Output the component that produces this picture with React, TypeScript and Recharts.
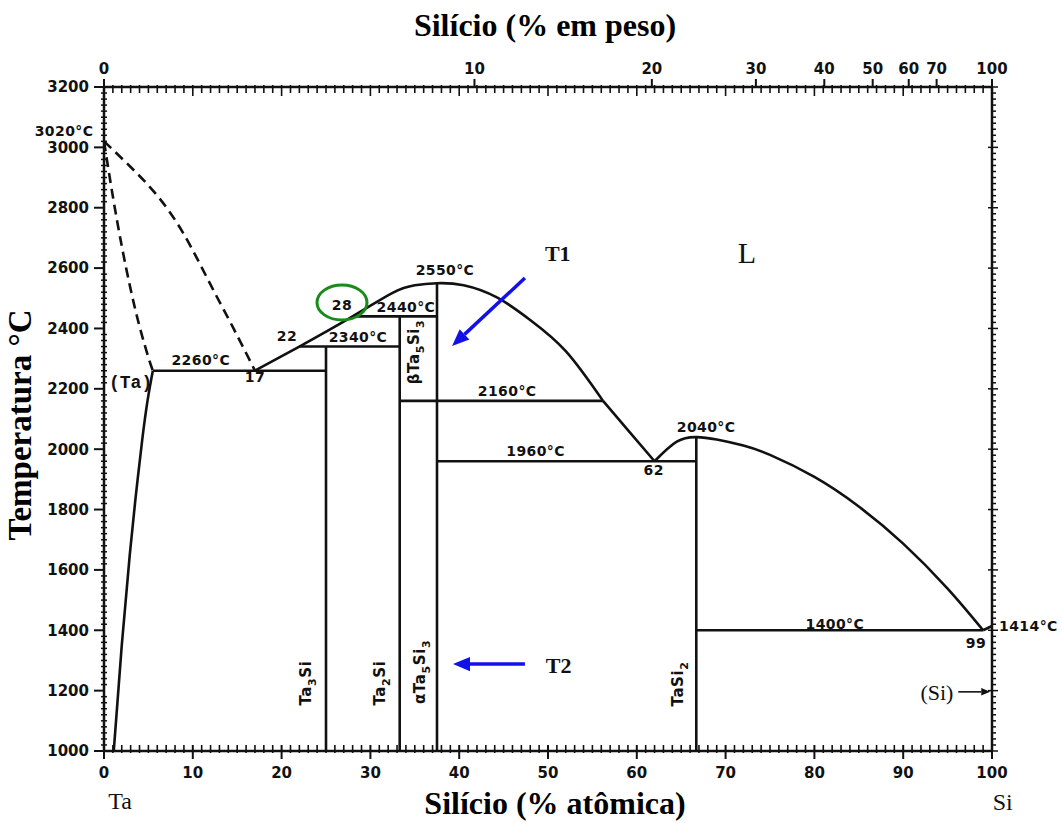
import React from 'react';
import { ComposedChart, Line, XAxis, YAxis, ReferenceDot, ReferenceLine } from 'recharts';

// Ta–Si phase diagram: x = Si (at.%), t = temperature (°C)

const taSolvus = [
  { x: 1.1, t: 1000 }, { x: 2.0, t: 1350 }, { x: 2.9, t: 1650 }, { x: 3.6, t: 1850 },
  { x: 4.3, t: 2030 }, { x: 4.9, t: 2160 }, { x: 5.5, t: 2260 },
];
const taSolidus = [
  { x: 0, t: 3020 }, { x: 1, t: 2837 }, { x: 2, t: 2673 }, { x: 3, t: 2530 },
  { x: 4, t: 2407 }, { x: 5, t: 2304 }, { x: 5.5, t: 2260 },
];
const taLiquidus = [
  { x: 0, t: 3020 }, { x: 3, t: 2935 }, { x: 6, t: 2840 }, { x: 9, t: 2712 },
  { x: 12, t: 2545 }, { x: 14.5, t: 2405 }, { x: 17, t: 2260 },
];
const liquidusBeta = [
  { x: 17, t: 2260 }, { x: 22, t: 2340 }, { x: 28, t: 2440 }, { x: 32.5, t: 2518 }, { x: 35, t: 2543 },
  { x: 37.5, t: 2550 }, { x: 40.5, t: 2543 }, { x: 44.3, t: 2502 }, { x: 48, t: 2428 },
  { x: 52, t: 2325 }, { x: 56.2, t: 2160 },
];
const liquidusAlpha = [{ x: 56.2, t: 2160 }, { x: 59, t: 2063 }, { x: 62, t: 1960 }];
const liquidusSi = [
  { x: 62, t: 1960 }, { x: 64.5, t: 2025 }, { x: 66.7, t: 2040 }, { x: 69, t: 2032 }, { x: 72, t: 2012 },
  { x: 75, t: 1981 }, { x: 80, t: 1908 }, { x: 85, t: 1810 }, { x: 90, t: 1687 }, { x: 95, t: 1538 },
  { x: 99, t: 1400 },
];
const siEnd = [{ x: 99, t: 1400 }, { x: 100, t: 1414 }];

const ta3Si = [{ x: 25, t: 1000 }, { x: 25, t: 2340 }];
const ta2Si = [{ x: 33.3, t: 1000 }, { x: 33.3, t: 2440 }];
const ta5Si3 = [{ x: 37.5, t: 1000 }, { x: 37.5, t: 2550 }];
const taSi2 = [{ x: 66.7, t: 1000 }, { x: 66.7, t: 2040 }];

const iso2260 = [{ x: 5.5, t: 2260 }, { x: 25, t: 2260 }];
const iso2340 = [{ x: 22, t: 2340 }, { x: 33.3, t: 2340 }];
const iso2440 = [{ x: 28, t: 2440 }, { x: 37.5, t: 2440 }];
const iso2160 = [{ x: 33.3, t: 2160 }, { x: 56.2, t: 2160 }];
const iso1960 = [{ x: 37.5, t: 1960 }, { x: 66.7, t: 1960 }];
const iso1400 = [{ x: 66.7, t: 1400 }, { x: 99, t: 1400 }];

const curveSeries = [taSolvus, liquidusBeta, liquidusAlpha, liquidusSi];
const straightSeries = [siEnd, ta3Si, ta2Si, ta5Si3, taSi2, iso2260, iso2340, iso2440, iso2160, iso1960, iso1400];
const dashedSeries = [taSolidus, taLiquidus];

const tempLabels = [
  { text: '3020°C', x: -1.2, t: 3054, anchor: 'end' },
  { text: '2260°C', x: 10.9, t: 2296 },
  { text: '17', x: 17.0, t: 2239 },
  { text: '22', x: 20.6, t: 2375 },
  { text: '28', x: 26.8, t: 2478 },
  { text: '2340°C', x: 28.6, t: 2372 },
  { text: '2440°C', x: 34.0, t: 2471 },
  { text: '2550°C', x: 38.4, t: 2594 },
  { text: '2160°C', x: 45.4, t: 2193 },
  { text: '1960°C', x: 48.6, t: 1994 },
  { text: '62', x: 61.9, t: 1931 },
  { text: '2040°C', x: 67.8, t: 2074 },
  { text: '1400°C', x: 82.3, t: 1421 },
  { text: '99', x: 98.2, t: 1358 },
  { text: '1414°C', x: 104.1, t: 1414 },
];

// [text, isSubscript]
const phaseLabels: { parts: [string, boolean][]; x: number; t: number }[] = [
  { parts: [['Ta', false], ['3', true], ['Si', false]], x: 23.3, t: 1225 },
  { parts: [['Ta', false], ['2', true], ['Si', false]], x: 31.6, t: 1225 },
  { parts: [['αTa', false], ['5', true], ['Si', false], ['3', true]], x: 36.1, t: 1262 },
  { parts: [['βTa', false], ['5', true], ['Si', false], ['3', true]], x: 35.5, t: 2322 },
  { parts: [['TaSi', false], ['2', true]], x: 65.2, t: 1222 },
];

const serifLabels = [
  { text: 'L', x: 72.4, t: 2653, size: 30, weight: 'normal' },
  { text: 'Ta', x: 1.8, t: 838, size: 24, weight: 'normal' },
  { text: 'Si', x: 101.2, t: 832, size: 24, weight: 'normal' },
  { text: 'T1', x: 51.1, t: 2650, size: 22, weight: 'bold' },
  { text: 'T2', x: 51.2, t: 1285, size: 22, weight: 'bold' },
  { text: '(Si)', x: 93.8, t: 1196, size: 22, weight: 'normal' },
];

const arrowT1 = [{ x: 47.4, t: 2567 }, { x: 39.2, t: 2342 }];
const arrowT2 = [{ x: 47.4, t: 1288 }, { x: 39.3, t: 1288 }];
const arrowSi = [{ x: 96.2, t: 1196 }, { x: 99.8, t: 1196 }];

const circled = { x: 26.8, t: 2486 };

const tempMajor = [1000, 1200, 1400, 1600, 1800, 2000, 2200, 2400, 2600, 2800, 3000, 3200];
const atMajor = [0, 10, 20, 30, 40, 50, 60, 70, 80, 90, 100];
const wtMajor = [0, 10, 20, 30, 40, 50, 60, 70, 100];

const INK = '#111';
const SANS = '"DejaVu Sans", sans-serif';
const SERIF = '"Liberation Serif", "Times New Roman", serif';

const wtToAt = (w: number) => {
  const si = w / 28.086;
  const ta = (100 - w) / 180.948;
  return (100 * si) / (si + ta);
};

const tempTicks: number[] = [];
for (let v = 1000; v <= 3200; v += 20) tempTicks.push(v);
const atTicks: number[] = [];
for (let v = 0; v <= 100; v += 1) atTicks.push(v);
const wtTickPos = wtMajor.map(wtToAt);

function LeftTick(props: any) {
  const { x, y, payload } = props;
  const v = payload.value;
  if (tempMajor.includes(v)) {
    return (
      <g>
        <line x1={x - 10} y1={y} x2={x} y2={y} stroke={INK} strokeWidth={2} />
        <text x={x - 15} y={y} dy="0.36em" textAnchor="end" fontFamily={SANS} fontWeight="bold" fontSize={15} fill={INK}>
          {v}
        </text>
      </g>
    );
  }
  return <line x1={x - 3} y1={y} x2={x + 3} y2={y} stroke={INK} strokeWidth={1.5} />;
}

function RightTick(props: any) {
  const { x, y, payload } = props;
  const major = tempMajor.includes(payload.value);
  return <line x1={x - (major ? 4 : 0)} y1={y} x2={x + (major ? 6 : 4)} y2={y} stroke={INK} strokeWidth={1.5} />;
}

// bottom axis: at.% ticks, also mirrored as inward ticks on the top border
function BottomTick(props: any) {
  const { x, y, payload } = props;
  const v = Math.round(payload.value);
  const major = atMajor.includes(v);
  const plotTop = y - 664;
  return (
    <g>
      <line x1={x} y1={y - 6} x2={x} y2={y + (major ? 8 : 2)} stroke={INK} strokeWidth={major ? 2 : 1.6} />
      <line x1={x} y1={plotTop - 2} x2={x} y2={plotTop + (major ? 9 : 6)} stroke={INK} strokeWidth={1.6} />
      {major && (
        <text x={x} y={y + 27} textAnchor="middle" fontFamily={SANS} fontWeight="bold" fontSize={15} fill={INK}>
          {v}
        </text>
      )}
    </g>
  );
}

function TopTick(props: any) {
  const { x, y, index } = props;
  return (
    <g>
      <line x1={x} y1={y - 8} x2={x} y2={y} stroke={INK} strokeWidth={2} />
      <text x={x} y={y - 13} textAnchor="middle" fontFamily={SANS} fontWeight="bold" fontSize={15} fill={INK}>
        {wtMajor[index]}
      </text>
    </g>
  );
}

function arrowShape(color: string, width: number, head: number) {
  return (p: any) => {
    const { x1, y1, x2, y2 } = p;
    const a = Math.atan2(y2 - y1, x2 - x1);
    const bx = x2 - head * Math.cos(a);
    const by = y2 - head * Math.sin(a);
    const hw = head * 0.42;
    const px = -Math.sin(a) * hw;
    const py = Math.cos(a) * hw;
    return (
      <g>
        <line x1={x1} y1={y1} x2={bx} y2={by} stroke={color} strokeWidth={width} />
        <polygon points={`${x2},${y2} ${bx + px},${by + py} ${bx - px},${by - py}`} fill={color} />
      </g>
    );
  };
}

const lineCommon = {
  dataKey: 't',
  stroke: INK,
  strokeWidth: 2.6,
  dot: false,
  activeDot: false,
  isAnimationActive: false,
};

export default function App() {
  return (
    <div style={{ position: 'absolute', left: 0, top: 0, width: 1062, height: 823, background: '#fff' }}>
      <ComposedChart width={1062} height={823} margin={{ top: 0, right: 0, bottom: 0, left: 0 }}>
        <XAxis
          dataKey="x"
          type="number"
          domain={[0, 100]}
          ticks={atTicks}
          interval={0}
          minTickGap={0}
          height={72}
          tickSize={0}
          tickMargin={0}
          tickLine={false}
          axisLine={{ stroke: INK, strokeWidth: 2.5 }}
          tick={(p: any) => <BottomTick {...p} />}
          label={{
            content: (p: any) => (
              <text x={555} y={p.viewBox.y + 63} textAnchor="middle" fontFamily={SERIF} fontWeight="bold" fontSize={32} fill="#000">
                Silício (% atômica)
              </text>
            ),
          }}
        />
        <XAxis
          xAxisId="top"
          orientation="top"
          dataKey="x"
          type="number"
          domain={[0, 100]}
          ticks={wtTickPos}
          interval={0}
          minTickGap={0}
          height={87}
          tickSize={0}
          tickMargin={0}
          tickLine={false}
          axisLine={{ stroke: INK, strokeWidth: 2.5 }}
          tick={(p: any) => <TopTick {...p} />}
          label={{
            content: () => (
              <text x={545} y={36} textAnchor="middle" fontFamily={SERIF} fontWeight="bold" fontSize={32} fill="#000">
                Silício (% em peso)
              </text>
            ),
          }}
        />
        <YAxis
          type="number"
          domain={[1000, 3200]}
          ticks={tempTicks}
          interval={0}
          width={104}
          tickSize={0}
          tickMargin={0}
          tickLine={false}
          axisLine={{ stroke: INK, strokeWidth: 2.5 }}
          tick={(p: any) => <LeftTick {...p} />}
          label={{
            content: () => (
              <text x={31} y={425} transform="rotate(-90 31 425)" textAnchor="middle" fontFamily={SERIF} fontWeight="bold" fontSize={33} fill="#000">
                Temperatura °C
              </text>
            ),
          }}
        />
        <YAxis
          yAxisId="right"
          orientation="right"
          type="number"
          domain={[1000, 3200]}
          ticks={tempTicks}
          interval={0}
          width={70}
          tickSize={0}
          tickMargin={0}
          tickLine={false}
          axisLine={{ stroke: INK, strokeWidth: 2.5 }}
          tick={(p: any) => <RightTick {...p} />}
        />

        {/* invisible series so the top and right axes get their scales */}
        <Line {...lineCommon} data={iso1400} xAxisId="top" stroke="none" />
        <Line {...lineCommon} data={iso1400} yAxisId="right" stroke="none" />

        {curveSeries.map((d, i) => (
          <Line key={`c${i}`} {...lineCommon} data={d} type="natural" />
        ))}
        {straightSeries.map((d, i) => (
          <Line key={`s${i}`} {...lineCommon} data={d} type="linear" />
        ))}
        {dashedSeries.map((d, i) => (
          <Line key={`d${i}`} {...lineCommon} data={d} type="natural" strokeDasharray="10 6" />
        ))}

        {tempLabels.map((l, i) => (
          <ReferenceDot
            key={`l${i}`}
            x={l.x}
            y={l.t}
            r={1}
            ifOverflow="visible"
            shape={(p: any) => (
              <text
                x={p.cx}
                y={p.cy}
                dy="0.36em"
                textAnchor={(l as any).anchor || 'middle'}
                fontFamily={SANS}
                fontWeight="bold"
                fontSize={14}
                letterSpacing={0.4}
                fill={INK}
              >
                {l.text}
              </text>
            )}
          />
        ))}

        {phaseLabels.map((l, i) => (
          <ReferenceDot
            key={`p${i}`}
            x={l.x}
            y={l.t}
            r={1}
            ifOverflow="visible"
            shape={(p: any) => (
              <text
                x={p.cx}
                y={p.cy}
                dy="0.36em"
                transform={`rotate(-90 ${p.cx} ${p.cy})`}
                textAnchor="middle"
                fontFamily={SANS}
                fontWeight="bold"
                fontSize={15}
                letterSpacing={0.6}
                fill={INK}
              >
                {l.parts.map(([s, sub], j) => {
                  const prevSub = j > 0 && l.parts[j - 1][1];
                  const dy = sub ? 5 : prevSub ? -5 : 0;
                  return (
                    <tspan key={j} dy={dy} fontSize={sub ? 11 : 15}>
                      {s}
                    </tspan>
                  );
                })}
              </text>
            )}
          />
        ))}

        {serifLabels.map((l, i) => (
          <ReferenceDot
            key={`sl${i}`}
            x={l.x}
            y={l.t}
            r={1}
            ifOverflow="visible"
            shape={(p: any) => (
              <text x={p.cx} y={p.cy} dy="0.36em" textAnchor="middle" fontFamily={SERIF} fontWeight={l.weight} fontSize={l.size} fill={INK}>
                {l.text}
              </text>
            )}
          />
        ))}
        <ReferenceDot
          x={3.0}
          y={2224}
          r={1}
          ifOverflow="visible"
          shape={(p: any) => (
            <text x={p.cx} y={p.cy} dy="0.36em" textAnchor="middle" fontFamily='"Liberation Mono", monospace' fontWeight="bold" fontSize={18} fill={INK}>
              (Ta)
            </text>
          )}
        />

        <ReferenceDot
          x={circled.x}
          y={circled.t}
          r={1}
          ifOverflow="visible"
          shape={(p: any) => (
            <ellipse cx={p.cx} cy={p.cy} rx={25} ry={17.5} fill="none" stroke="#1a8a1a" strokeWidth={3} />
          )}
        />

        <ReferenceLine
          segment={arrowT1.map((d) => ({ x: d.x, y: d.t }))}
          ifOverflow="visible"
          shape={arrowShape('#1212e8', 3.5, 17)}
        />
        <ReferenceLine
          segment={arrowT2.map((d) => ({ x: d.x, y: d.t }))}
          ifOverflow="visible"
          shape={arrowShape('#1212e8', 3.5, 17)}
        />
        <ReferenceLine
          segment={arrowSi.map((d) => ({ x: d.x, y: d.t }))}
          ifOverflow="visible"
          shape={arrowShape(INK, 1.6, 9)}
        />
      </ComposedChart>
    </div>
  );
}
